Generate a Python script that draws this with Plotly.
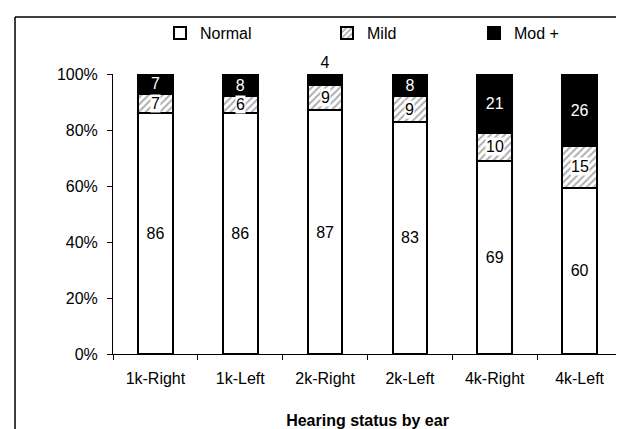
import plotly.graph_objects as go

categories = ["1k-Right", "1k-Left", "2k-Right", "2k-Left", "4k-Right", "4k-Left"]
normal = [86, 86, 87, 83, 69, 60]
mild = [7, 6, 9, 9, 10, 15]
mod_plus = [7, 8, 4, 8, 21, 26]
y_ticks = [0, 20, 40, 60, 80, 100]
y_tick_labels = ["0%", "20%", "40%", "60%", "80%", "100%"]

FONT = "Liberation Sans, Arial, sans-serif"
FS = 16

fig = go.Figure()

fig.add_trace(go.Bar(
    name="Normal", x=categories, y=normal,
    marker=dict(color="white", line=dict(color="black", width=2)),
    text=[str(v) for v in normal], texttemplate="%{text}",
    textposition="inside", insidetextanchor="middle", textangle=0,
    constraintext="none",
    insidetextfont=dict(color="black", size=FS, family=FONT),
    legend="legend",
))
fig.add_trace(go.Bar(
    name="Mild", x=categories, y=mild,
    marker=dict(color="white", line=dict(color="black", width=2),
                pattern=dict(shape="/", fgcolor="#5a5a5a", bgcolor="white",
                             size=5, solidity=0.4)),
    textposition="none",
    legend="legend2",
))
mod_pos = ["outside" if v < 5 else "inside" for v in mod_plus]
fig.add_trace(go.Bar(
    name="Mod +", x=categories, y=mod_plus,
    marker=dict(color="black", line=dict(color="black", width=2)),
    text=[str(v) for v in mod_plus], texttemplate="%{text}",
    textposition=mod_pos, insidetextanchor="middle", textangle=0,
    constraintext="none", cliponaxis=False,
    insidetextfont=dict(color="white", size=FS, family=FONT),
    outsidetextfont=dict(color="black", size=FS, family=FONT),
    legend="legend3",
))

# white-boxed labels for the Mild segments (positions derived from the data)
for c, n, m, d in zip(categories, normal, mild, mod_plus):
    tot = n + m + d
    fig.add_annotation(
        x=c, y=(n + m / 2) * 100 / tot, xref="x", yref="y",
        text=str(m), showarrow=False, bgcolor="white", borderpad=0,
        font=dict(color="black", size=FS, family=FONT),
    )

# outer frame (left and top edges visible)
fig.add_shape(type="line", xref="paper", yref="paper",
              x0=-0.1925, x1=-0.1925, y0=1.2036, y1=-0.4,
              line=dict(color="black", width=1.5))
fig.add_shape(type="line", xref="paper", yref="paper",
              x0=-0.1925, x1=1.1, y0=1.2036, y1=1.2036,
              line=dict(color="black", width=1.5))

leg_common = dict(orientation="h", xref="container", yref="container",
                  xanchor="left", yanchor="middle", y=1 - 25 / 429,
                  bgcolor="rgba(0,0,0,0)", font=dict(size=FS, family=FONT, color="black"),
                  itemwidth=30, itemclick=False, itemdoubleclick=False)

fig.update_layout(
    width=624, height=429,
    margin=dict(l=105, r=10, t=66, b=83, autoexpand=False),
    paper_bgcolor="white", plot_bgcolor="white",
    barmode="stack", barnorm="percent", bargap=0.59,
    font=dict(family=FONT, size=FS, color="black"),
    showlegend=True,
    legend=dict(x=152 / 624, **leg_common),
    legend2=dict(x=319 / 624, **leg_common),
    legend3=dict(x=466 / 624, **leg_common),
    xaxis=dict(
        showline=True, linecolor="black", linewidth=1,
        ticks="outside", tickson="boundaries", ticklen=5, tickcolor="black",
        showgrid=False, ticklabelstandoff=10,
        tickfont=dict(size=FS, family=FONT, color="black"),
        title=dict(text="<b>Hearing status by ear</b>", standoff=28,
                   font=dict(size=FS, family=FONT, color="black")),
        automargin=False,
    ),
    yaxis=dict(
        range=[0, 100], tickvals=y_ticks, ticktext=y_tick_labels,
        showline=True, linecolor="black", linewidth=1,
        ticks="outside", ticklen=5, tickcolor="black",
        showgrid=False, zeroline=False, ticklabelstandoff=6,
        tickfont=dict(size=FS, family=FONT, color="black"),
        automargin=False,
    ),
)

fig.write_html("out.html")
